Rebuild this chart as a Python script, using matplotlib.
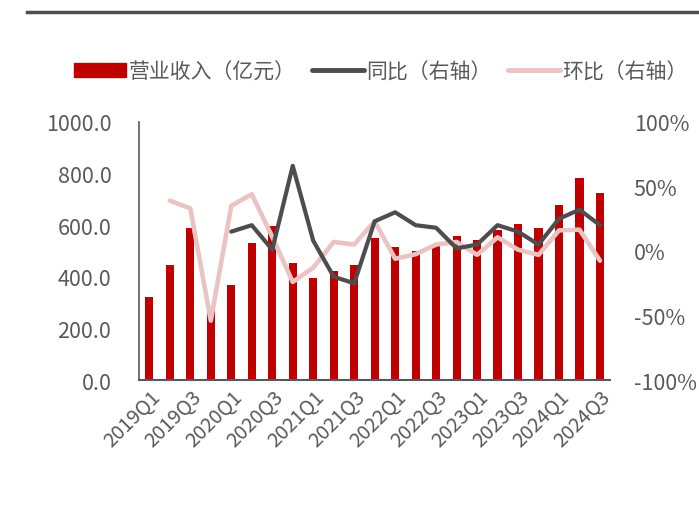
import matplotlib
matplotlib.use("Agg")
import matplotlib.pyplot as plt
from matplotlib.lines import Line2D
from matplotlib.patches import Patch
import numpy as np

plt.rcParams['font.family'] = ['Noto Sans CJK SC', 'DejaVu Sans']

quarters = ['2019Q1', '2019Q2', '2019Q3', '2019Q4',
            '2020Q1', '2020Q2', '2020Q3', '2020Q4',
            '2021Q1', '2021Q2', '2021Q3', '2021Q4',
            '2022Q1', '2022Q2', '2022Q3', '2022Q4',
            '2023Q1', '2023Q2', '2023Q3', '2023Q4',
            '2024Q1', '2024Q2', '2024Q3']
revenue = [320, 446, 589, 270, 369, 531, 597, 453, 395, 422, 446, 550,
           516, 500, 520, 558, 543, 581, 605, 589, 678, 783, 725]
yoy = [np.nan, np.nan, np.nan, np.nan,
       15, 20, 1, 66, 8, -20, -25, 23,
       30, 20, 18, 2, 5, 20, 15, 5, 25, 32, 20]
qoq = [np.nan, 39, 33, -54, 35, 44, 11, -24, -13, 7, 5, 23,
       -6, -2.5, 5, 7, -3, 10.6, 1, -3, 16, 16.5, -7.5]

bar_color = '#C00000'
yoy_color = '#4D4D4D'
qoq_color = '#EBC3C3'
text_color = '#595959'

fig = plt.figure(figsize=(6.99, 5.06), dpi=100)
ax = fig.add_axes([0.199, 0.247, 0.674, 0.51])
x = np.arange(len(quarters))
ax.bar(x, revenue, width=0.4, color=bar_color, zorder=2)
ax.set_xlim(-0.5, len(quarters) - 0.5)
ax.set_ylim(0, 1000)
ax.set_yticks(np.arange(0, 1001, 200))
ax.set_yticklabels([f'{v:.1f}' for v in np.arange(0, 1001, 200)])
ax.set_xticks(x[::2])
ax.set_xticklabels(quarters[::2], rotation=45, ha='right', rotation_mode='anchor')

ax2 = ax.twinx()
ax2.plot(x, qoq, color=qoq_color, lw=3.3, solid_capstyle='round', zorder=3)
ax2.plot(x, yoy, color=yoy_color, lw=3.0, solid_capstyle='round', zorder=4)
ax2.set_ylim(-100, 100)
ax2.set_yticks(np.arange(-100, 101, 50))
ax2.set_yticklabels([f'{v}%' for v in np.arange(-100, 101, 50)])
ax2.set_xlim(-0.5, len(quarters) - 0.5)

for a in (ax, ax2):
    for s in ['top', 'right']:
        a.spines[s].set_visible(False)
    a.tick_params(length=0, labelsize=15.5, colors=text_color)
ax2.spines['left'].set_visible(False)
ax2.spines['bottom'].set_visible(False)
ax.spines['left'].set_color('#595959')
ax.spines['left'].set_linewidth(1.2)
ax.spines['bottom'].set_color('#595959')
ax.spines['bottom'].set_linewidth(1.5)
ax.tick_params(axis='x', labelsize=14.5, pad=4)
ax.tick_params(axis='y', pad=20)
ax2.tick_params(axis='y', pad=17)

handles = [Patch(color=bar_color),
           Line2D([], [], color=yoy_color, lw=3.5, solid_capstyle='round'),
           Line2D([], [], color=qoq_color, lw=3.5, solid_capstyle='round')]
labels = ['营业收入（亿元）', '同比（右轴）', '环比（右轴）']
fig.legend(handles, labels, loc='center', bbox_to_anchor=(0.545, 0.857),
           ncol=3, frameon=False, fontsize=15, handlelength=2.5,
           handletextpad=0.1, columnspacing=0.8, labelcolor=text_color)

fig.add_artist(Line2D([0.038, 1.0], [0.974, 0.974], color='#4D4D4D', lw=2.5,
                      transform=fig.transFigure))

fig.savefig('out.png', dpi=100)
